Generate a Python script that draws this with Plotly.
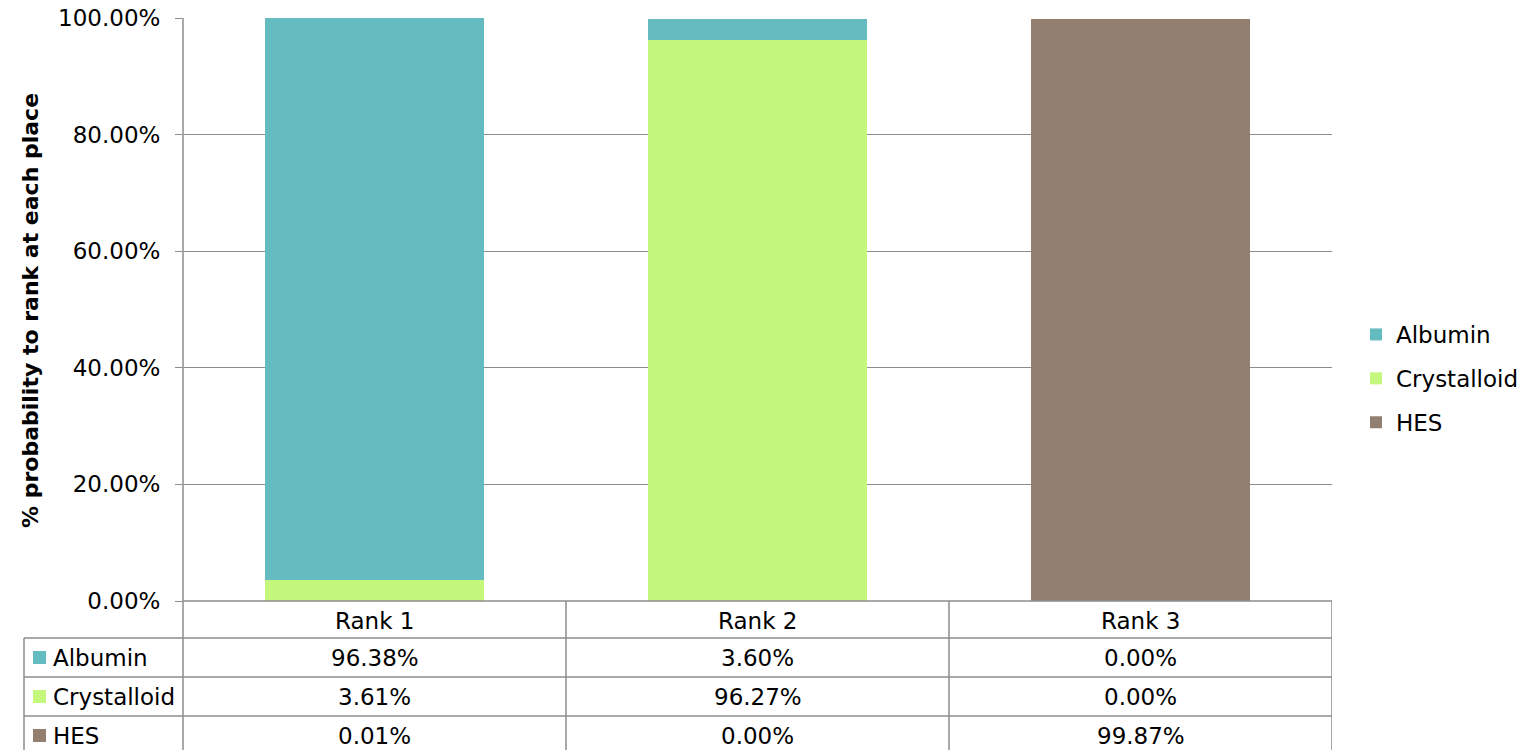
import plotly.graph_objects as go

# Ranking probabilities per treatment
ranks = ["Rank 1", "Rank 2", "Rank 3"]
albumin = [96.38, 3.60, 0.00]
crystalloid = [3.61, 96.27, 0.00]
hes = [0.01, 0.00, 99.87]

series_names = ["Albumin", "Crystalloid", "HES"]
series_values = [albumin, crystalloid, hes]
series_colors = ["#64BBC0", "#C4F87C", "#927F70"]

y_ticks = [0, 20, 40, 60, 80, 100]

FONT = "DejaVu Sans, Arial, sans-serif"
FS = 23
GRID = "#8C8C8C"

W, H = 1522, 750
L, R, T, B = 183, 190, 18, 149
plot_w = W - L - R
plot_h = H - T - B


def px_x(x):
    return (x - L) / plot_w


def px_y(y):
    return (H - B - y) / plot_h


fig = go.Figure()

# stacked bottom-to-top: HES, Crystalloid, Albumin
for rank_pos, (name, vals, col) in reversed(list(enumerate(zip(series_names, series_values, series_colors)))):
    fig.add_trace(go.Bar(
        x=ranks, y=vals, name=name, marker=dict(color=col, line=dict(width=0)),
        width=0.57, legendgroup=name, legendrank=rank_pos + 1, hoverinfo="skip",
    ))

fig.update_layout(
    width=W, height=H,
    margin=dict(l=L, r=R, t=T, b=B, autoexpand=False),
    paper_bgcolor="white", plot_bgcolor="white",
    barmode="stack",
    font=dict(family=FONT, size=FS, color="black"),
    showlegend=True,
    legend=dict(
        x=px_x(1356), y=px_y(313), xanchor="left", yanchor="top",
        traceorder="grouped", tracegroupgap=11,
        font=dict(family=FONT, size=FS, color="black"),
        bgcolor="rgba(0,0,0,0)", itemwidth=30,
    ),
    xaxis=dict(
        range=[-0.5, 2.5], showticklabels=False, ticks="",
        showgrid=False, zeroline=False, showline=False, fixedrange=True,
        automargin=False,
    ),
    yaxis=dict(
        range=[0, 100], tickvals=y_ticks,
        ticktext=[f"{v:.2f}%" for v in y_ticks],
        ticks="outside", ticklen=7, tickcolor=GRID, ticklabelstandoff=10,
        showgrid=True, gridcolor=GRID, gridwidth=1,
        zeroline=False, showline=False, fixedrange=True, automargin=False,
        tickfont=dict(family=FONT, size=FS),
    ),
)

shapes = []
line = dict(color=GRID, width=1.5)

# vertical axis line running down through the data table
shapes.append(dict(type="line", xref="paper", yref="paper",
                   x0=0, x1=0, y0=1, y1=px_y(H + 2), line=line))
# bottom axis / top of table header
shapes.append(dict(type="line", xref="paper", yref="paper",
                   x0=0, x1=1, y0=0, y1=0, line=line))
# column separators
for xb in [0.5, 1.5, 2.5]:
    shapes.append(dict(type="line", xref="x", yref="paper",
                       x0=xb, x1=xb, y0=0, y1=px_y(H + 2), line=line))
# horizontal row lines
for ry in [638, 677, 716]:
    shapes.append(dict(type="line", xref="paper", yref="paper",
                       x0=px_x(24), x1=1, y0=px_y(ry), y1=px_y(ry), line=line))
# outer left border of the label column
shapes.append(dict(type="line", xref="paper", yref="paper",
                   x0=px_x(24), x1=px_x(24), y0=px_y(638), y1=px_y(H + 2), line=line))

annotations = []
# header row
for r in ranks:
    annotations.append(dict(x=r, y=px_y(621), xref="x", yref="paper",
                            text=r, showarrow=False, font=dict(size=FS),
                            xanchor="center", yanchor="middle"))

row_centers = [658, 697, 736]
for (name, vals, col), cy in zip(zip(series_names, series_values, series_colors), row_centers):
    # legend key square
    shapes.append(dict(type="rect", xref="paper", yref="paper",
                       x0=px_x(33), x1=px_x(46), y0=px_y(cy + 6), y1=px_y(cy - 7),
                       fillcolor=col, line=dict(width=0)))
    annotations.append(dict(x=px_x(51), y=px_y(cy), xref="paper", yref="paper",
                            text=name, showarrow=False, font=dict(size=FS),
                            xanchor="left", yanchor="middle"))
    for r, v in zip(ranks, vals):
        annotations.append(dict(x=r, y=px_y(cy), xref="x", yref="paper",
                                text=f"{v:.2f}%", showarrow=False, font=dict(size=FS),
                                xanchor="center", yanchor="middle"))

# y-axis title
annotations.append(dict(x=px_x(30), y=px_y(311), xref="paper", yref="paper",
                        text="<b>% probability to rank at each place</b>",
                        showarrow=False, textangle=-90, font=dict(size=22),
                        xanchor="center", yanchor="middle"))

fig.update_layout(shapes=shapes, annotations=annotations)

fig.write_html("out.html")
